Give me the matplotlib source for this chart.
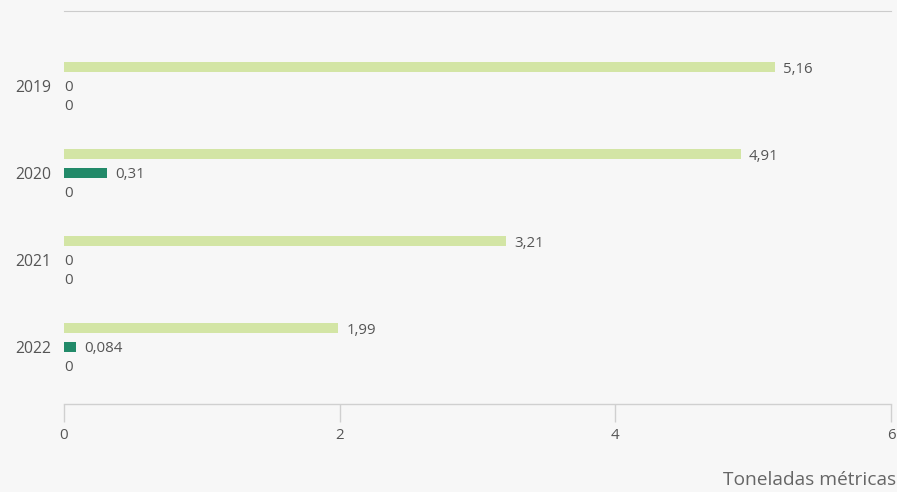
import numpy as np
import matplotlib
matplotlib.use('Agg')
import matplotlib.pyplot as plt

plt.rcParams['font.family'] = ['Open Sans', 'DejaVu Sans']

years = ['2019', '2020', '2021', '2022']
serie_a = [5.16, 4.91, 3.21, 1.99]
serie_b = [0, 0.31, 0, 0.084]
serie_c = [0, 0, 0, 0]

COLORS = ['#d3e5a5', '#228a69', '#9bbf6b']
TEXT = '#555555'
BG = '#f7f7f7'

fig = plt.figure(figsize=(8.97, 4.92), dpi=100, facecolor=BG)
ax = fig.add_axes([64 / 897, 88 / 492, 827 / 897, 393 / 492], facecolor=BG)

y = np.arange(len(years))
off = 0.213
h = 0.115


def fmt(v):
    return f'{v:g}'.replace('.', ',')


for k, (vals, col) in enumerate(zip([serie_a, serie_b, serie_c], COLORS)):
    pos = y + (k - 1) * off
    ax.barh(pos, vals, height=h, color=col)
    for p, v in zip(pos, vals):
        dx = 0.06 if v > 0 else 0.0
        ax.text(v + dx, p + 0.02, fmt(v), va='center', ha='left',
                fontsize=10.8, color=TEXT)

ax.set_xlim(0, 6)
ax.set_ylim(3.655, -0.862)
ax.set_yticks(y)
ax.set_yticklabels(years, fontsize=11.3, color=TEXT)
ax.tick_params(axis='y', length=0, pad=9)
ax.set_xticks([0, 2, 4, 6])
ax.set_xticklabels(['0', '2', '4', '6'], fontsize=10.8, color=TEXT)
ax.tick_params(axis='x', length=13, width=1, color='#d0d0d0', pad=4)

for s in ['left', 'right']:
    ax.spines[s].set_visible(False)
ax.spines['top'].set_color('#cccccc')
ax.spines['bottom'].set_color('#d0d0d0')
ax.spines['bottom'].set_linewidth(1)

fig.text(896 / 897, 1 - 480 / 492, 'Toneladas métricas', ha='right', va='center',
         fontsize=13.8, color='#666666')

plt.savefig('out.png', dpi=100, facecolor=BG)
